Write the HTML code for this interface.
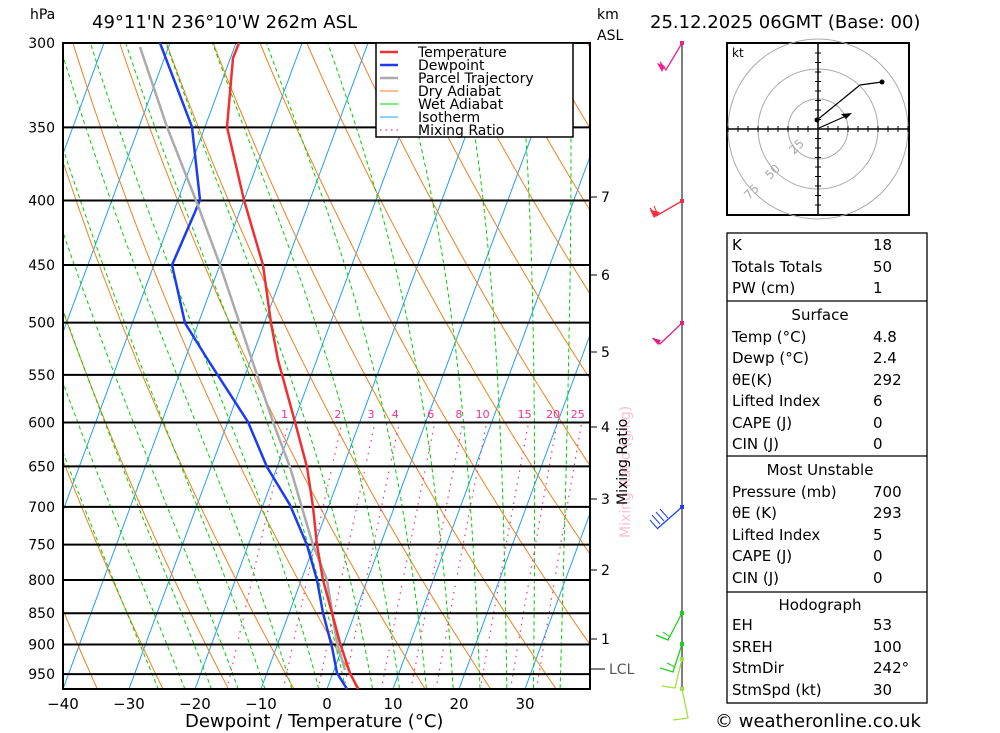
<!DOCTYPE html>
<html><head><meta charset="utf-8"><style>
html,body{margin:0;padding:0;background:#fff;width:1000px;height:733px;overflow:hidden}
svg text{font-family:"DejaVu Sans","Liberation Sans",sans-serif}
</style></head><body>
<svg id="s" width="1000" height="733" viewBox="0 0 1000 733" xmlns="http://www.w3.org/2000/svg">
<defs><clipPath id="c"><rect x="63" y="43" width="527" height="646"/></clipPath></defs>
<g id="bg" clip-path="url(#c)"></g>
<g id="fg"></g>
<text x="30" y="19" font-size="14">hPa</text>
<text x="92" y="28" font-size="18">49°11'N  236°10'W  262m  ASL</text>
<text x="597" y="19" font-size="14">km</text>
<text x="597" y="40" font-size="14">ASL</text>
<text x="650" y="28" font-size="18">25.12.2025  06GMT  (Base: 00)</text>
<text x="185" y="727" font-size="18">Dewpoint / Temperature (°C)</text>
<text transform="translate(630,538) rotate(-90)" font-size="14" fill="#f6bfd6">Mixing Ratio (g/kg)</text>
<text transform="translate(627,505) rotate(-90)" font-size="14">Mixing Ratio</text>
<rect x="376" y="43" width="197" height="94" fill="#fff" stroke="#000" stroke-width="1.5"/>
<g font-size="14">
<line x1="380" x2="398" y1="52" y2="52" stroke="#f03030" stroke-width="2.5"/><text x="418" y="57">Temperature</text>
<line x1="380" x2="398" y1="65" y2="65" stroke="#1c3cf0" stroke-width="2.5"/><text x="418" y="70">Dewpoint</text>
<line x1="380" x2="398" y1="78" y2="78" stroke="#aaa" stroke-width="2.5"/><text x="418" y="83">Parcel Trajectory</text>
<line x1="380" x2="398" y1="91" y2="91" stroke="#f08020" stroke-width="1"/><text x="418" y="96">Dry Adiabat</text>
<line x1="380" x2="398" y1="104" y2="104" stroke="#00d000" stroke-width="1"/><text x="418" y="109">Wet Adiabat</text>
<line x1="380" x2="398" y1="117" y2="117" stroke="#20a0f0" stroke-width="1"/><text x="418" y="122">Isotherm</text>
<line x1="380" x2="398" y1="130" y2="130" stroke="#f03090" stroke-width="1.2" stroke-dasharray="1.5,4"/><text x="418" y="135">Mixing Ratio</text>
</g>
<rect x="727" y="43" width="182" height="172" fill="#fff" stroke="#000" stroke-width="2"/>
<g fill="none" stroke="#aaa" stroke-width="1">
<circle cx="818" cy="129" r="30"/><circle cx="818" cy="129" r="60"/><circle cx="818" cy="129" r="90"/>
</g>
<g id="hodo"></g>
<text x="732" y="57" font-size="12">kt</text>
<g font-size="12" fill="#aaa">
<text transform="translate(794,155) rotate(-45)">25</text>
<text transform="translate(770,180) rotate(-45)">50</text>
<text transform="translate(749,200) rotate(-45)">75</text>
</g>
<polyline points="817,120 822,116 860,85 882,82" fill="none" stroke="#000" stroke-width="1.2"/>
<circle cx="817" cy="120" r="2.5"/><circle cx="882" cy="82" r="2.5"/>
<line x1="819" y1="128" x2="846" y2="116" stroke="#000" stroke-width="1.2"/>
<polygon points="852,113 841,114 846,119"/>
<g fill="none" stroke="#000" stroke-width="1.3">
<rect x="727" y="233" width="200" height="470"/>
<line x1="727" x2="927" y1="301" y2="301"/><line x1="727" x2="927" y1="456" y2="456"/><line x1="727" x2="927" y1="592" y2="592"/>
</g>
<g font-size="15" id="tbl"></g>
<text x="715" y="727" font-size="18">© weatheronline.co.uk</text>
<script>
const NS="http://www.w3.org/2000/svg";
const bg=document.getElementById('bg'),fg=document.getElementById('fg');
function el(p,tag,a,t){const e=document.createElementNS(NS,tag);for(const k in a)e.setAttribute(k,a[k]);if(t!==undefined)e.textContent=t;p.appendChild(e);return e;}
const Y=p=>43+547.5*Math.log(p/300);
const X=(T,p)=>327+6.6*T+0.37*(689-Y(p));
function poly(par,pts,st,w,da){el(par,'polyline',{points:pts.map(q=>q[0].toFixed(1)+','+q[1].toFixed(1)).join(' '),fill:'none',stroke:st,'stroke-width':w,'stroke-dasharray':da||'none'});}
const ps=[];for(let p=1000;p>=290;p-=5)ps.push(p);
for(let T=-120;T<=50;T+=10)poly(bg,[[X(T,1000),Y(1000)],[X(T,290),Y(290)]],'#20a0f0',1);
for(let th=230;th<=480;th+=10)poly(bg,ps.map(p=>{const T=th*Math.pow(p/1000,0.286)-273.15;return[X(T,p),Y(p)]}),'#f08020',1);
function es(T){return 6.112*Math.exp(17.67*T/(T+243.5));}
function mlr(T,p){const Tk=T+273.15,e=es(T),r=0.622*e/(p-e),Lv=2.5e6,Rd=287,cp=1004,eps=0.622;
 return (Rd*Tk/p+Lv*r/p)/(cp+Lv*Lv*r*eps/(Rd*Tk*Tk));}
for(let t0=-24;t0<=36;t0+=4){let T=t0,p=1000,pts=[[X(T,p),Y(p)]];
 while(p>290){const dp=-5;T+=mlr(T,p)*dp;p+=dp;pts.push([X(T,p),Y(p)]);}
 poly(bg,pts,'#00d000',1,'4,3');}
const off={1:15,2:15,3:15,4:15,6:15,8:17,10:20,15:23,20:23,25:25};
[1,2,3,4,6,8,10,15,20,25].forEach(w=>{const pts=[];const o=off[w];for(let p=1000;p>=600;p-=10){const e=w*p/(622+w),l=Math.log(e/6.112),Td=243.5*l/(17.67-l);pts.push([X(Td,p)+o,Y(p)]);}
 poly(bg,pts,'#f03090',1.2,'1.5,5');
 const l=Math.log((w*600/(622+w))/6.112),Td=243.5*l/(17.67-l);
 el(fg,'text',{x:X(Td,600)-4+o,y:418,'font-size':11,fill:'#f03090','text-anchor':'middle'},w);});
[300,350,400,450,500,550,600,650,700,750,800,850,900,950].forEach(p=>{const y=Y(p);
 el(fg,'line',{x1:63,x2:590,y1:y,y2:y,stroke:'#000','stroke-width':2});
 el(fg,'text',{x:55,y:y+5,'font-size':14,'text-anchor':'end'},p);});
el(fg,'rect',{x:63,y:43,width:527,height:646,fill:'none',stroke:'#000','stroke-width':2});
[-40,-30,-20,-10,0,10,20,30].forEach(T=>el(fg,'text',{x:63+6.6*(T+40),y:709,'font-size':15,'text-anchor':'middle'},T<0?'−'+(-T):T));
poly(fg,[[160,43],[192,127],[200,200],[195,212],[172,265],[185,323],[208,360],[248,422],[267,467],[290,505],[307,545],[317,580],[323,613],[332,647],[337,673],[347,689]],'#1c3cf0',2.5);
poly(fg,[[140,47],[167,127],[197,203],[220,265],[252,360],[273,422],[290,467],[313,545],[327,580],[337,643],[345,670]],'#aaa',2.5);
poly(fg,[[239,43],[233,58],[227,127],[244,200],[263,265],[271,323],[278,360],[295,422],[307,467],[313,507],[317,545],[323,580],[332,613],[340,643],[350,673],[358,689]],'#f03030',2.5);
[[7,197],[6,275],[5,352],[4,427],[3,499],[2,570],[1,639]].forEach(a=>{el(fg,'line',{x1:590,x2:597,y1:a[1],y2:a[1],stroke:'#000'});el(fg,'text',{x:601,y:a[1]+5,'font-size':14},a[0]);});
el(fg,'line',{x1:590,x2:605,y1:669,y2:669,stroke:'#000'});el(fg,'text',{x:609,y:674,'font-size':14,fill:'#555'},'LCL');
el(fg,'line',{x1:682,x2:682,y1:43,y2:690,stroke:'#555','stroke-width':1.5});
function barb(y,c,pts){el(fg,'polyline',{points:pts,fill:'none',stroke:c,'stroke-width':1.3});el(fg,'rect',{x:680,y:y-2,width:4,height:4,fill:c});}
barb(43,'#f0208c','682,43 666,70 660,62');el(fg,'polygon',{points:'657,63 665,66 662,72',fill:'#f0208c'});
barb(201,'#f03040','682,201 656,216 650,208');el(fg,'polygon',{points:'650,210 660,212 654,218',fill:'#f03040'});el(fg,'polyline',{points:'658,215 654,206',stroke:'#f03040',fill:'none'});
barb(323,'#e0207c','682,323 660,344 653,338');el(fg,'polygon',{points:'652,338 661,340 658,345',fill:'#e0207c'});
barb(507,'#2040f0','682,507 657,529');['652,515 660,524','656,512 664,521','660,509 668,518','650,520 657,528'].forEach(q=>el(fg,'polyline',{points:q,stroke:'#2040f0',fill:'none'}));
barb(613,'#20d020','682,613 668,640 656,635');el(fg,'polyline',{points:'670,637 663,632',stroke:'#20d020',fill:'none'});
barb(644,'#20d020','682,644 673,672 660,668');el(fg,'polyline',{points:'675,667 667,663',stroke:'#20d020',fill:'none'});
barb(659,'#a0e040','682,659 675,688 662,686');
barb(689,'#a0e040','682,689 688,718 673,720');
const h=document.getElementById('hodo');
el(h,'line',{x1:727,x2:909,y1:129,y2:129,stroke:'#000','stroke-width':1.5});el(h,'line',{x1:818,x2:818,y1:43,y2:215,stroke:'#000','stroke-width':1.5});
for(let i=-9;i<=9;i++){if(!i)continue;const d=i*10;el(h,'line',{x1:818+d,x2:818+d,y1:126,y2:132,stroke:'#000'});el(h,'line',{x1:815,x2:821,y1:129+d*0.95,y2:129+d*0.95,stroke:'#000'});}
const rows=[['K','18',245],['Totals Totals','50',267],['PW (cm)','1',288],['Temp (°C)','4.8',337],['Dewp (°C)','2.4',358],['θE(K)','292',380],['Lifted Index','6',401],['CAPE (J)','0',423],['CIN (J)','0',444],['Pressure (mb)','700',492],['θE (K)','293',513],['Lifted Index','5',535],['CAPE (J)','0',556],['CIN (J)','0',578],['EH','53',625],['SREH','100',647],['StmDir','242°',668],['StmSpd (kt)','30',690]];
const tb=document.getElementById('tbl');
rows.forEach(r=>{el(tb,'text',{x:732,y:r[2]+5},r[0]);el(tb,'text',{x:873,y:r[2]+5},r[1]);});
[['Surface',315],['Most Unstable',470],['Hodograph',605]].forEach(r=>el(tb,'text',{x:820,y:r[1]+5,'text-anchor':'middle'},r[0]));
</script>
</svg>
</body></html>
